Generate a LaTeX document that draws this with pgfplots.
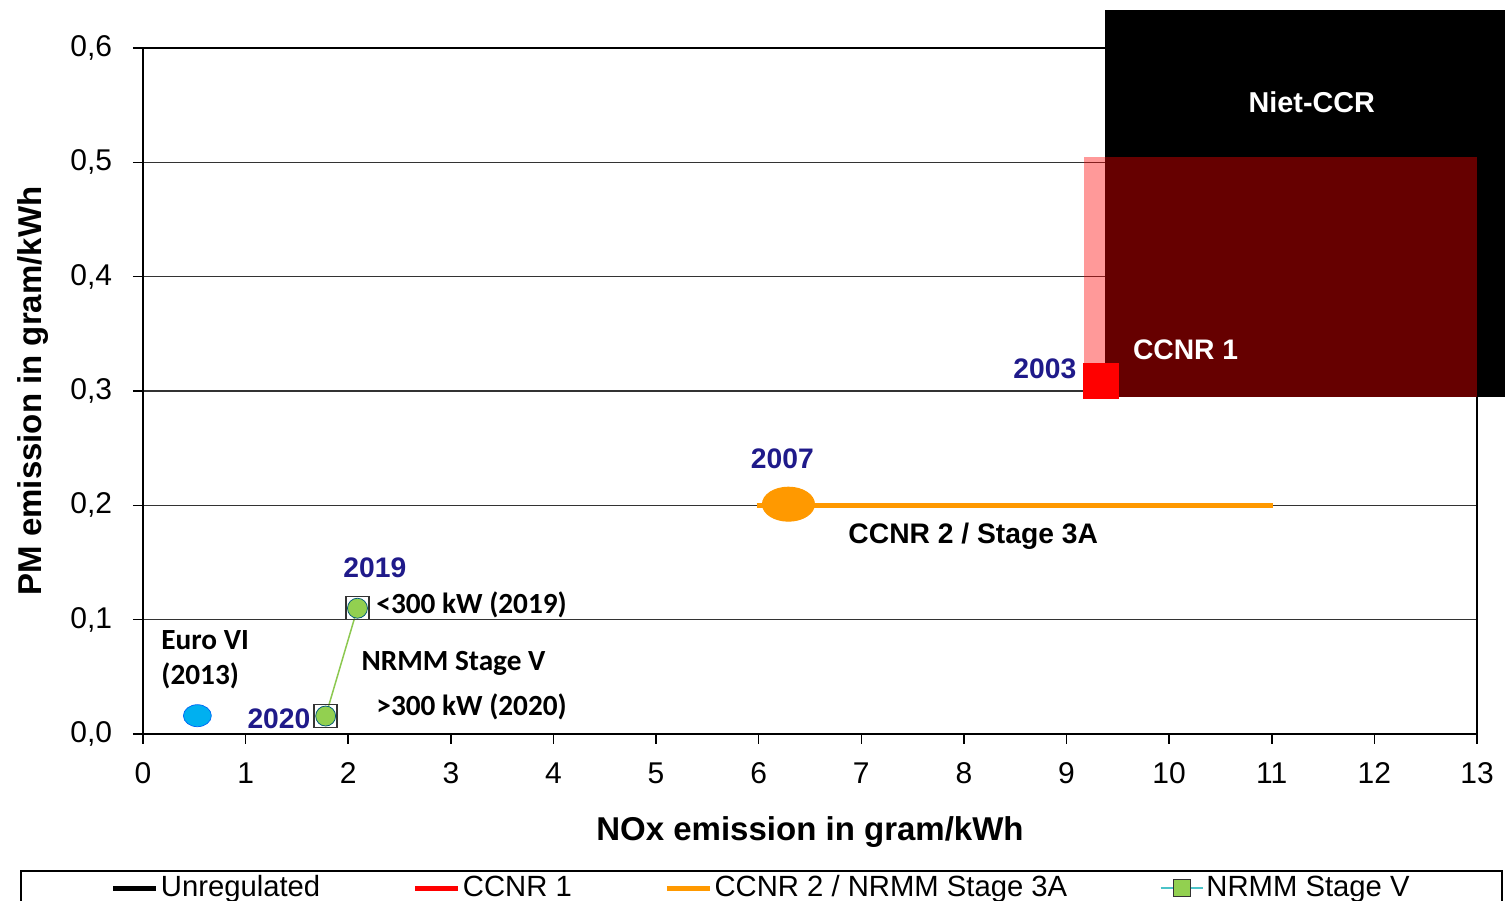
\documentclass[border=0pt]{standalone}
\usepackage{pgfplots}
\pgfplotsset{compat=1.18}
\usepackage{fontspec}
\setmainfont{Liberation Sans}
\newfontfamily\calib{Carlito}
\definecolor{navy}{HTML}{1F1A8A}
\definecolor{ora}{HTML}{FF9900}
\definecolor{grn}{HTML}{92D050}
\definecolor{grnline}{HTML}{8CC850}
\definecolor{sky}{HTML}{00B0F0}
\definecolor{teal2}{HTML}{4BC3C8}
\begin{document}
\begin{tikzpicture}
\begin{axis}[
  at={(0,0)}, anchor=south west, scale only axis,
  width=533.6pt, height=274.4pt,
  xmin=0, xmax=13, ymin=0, ymax=0.6,
  xtick={0,1,2,3,4,5,6,7,8,9,10,11,12,13},
  ytick={0,0.1,0.2,0.3,0.4,0.5,0.6},
  xtick pos=bottom, ytick pos=left,
  clip=false,
  axis line style={black, line width=0.6pt},
  tick align=outside, major tick length=4pt,
  tick style={black, line width=0.6pt},
  ymajorgrids=true,
  major grid style={black!80, line width=0.6pt},
  /pgf/number format/assume math mode=true,
  yticklabel style={/pgf/number format/use comma, /pgf/number format/fixed, /pgf/number format/fixed zerofill, /pgf/number format/precision=1, xshift=-4.8pt},
  tick label style={font=\fontsize{12}{14}\selectfont},
  xticklabel style={yshift=-4pt},
  xlabel={NOx emission in gram/kWh},
  ylabel={PM emission in gram/kWh},
  label style={font=\fontsize{13.2}{15}\selectfont\bfseries},
  xlabel style={at={(axis description cs:0.5,-0.1429)}, anchor=center},
  ylabel style={at={(axis description cs:-0.0825,0.5)}, anchor=center},
  legend columns=4,
  legend cell align=left,
  legend style={at={(rel axis cs:0.4636,-0.1983)}, anchor=north,
    draw=black, line width=0.6pt, inner xsep=36pt, inner ysep=1pt,
    font=\fontsize{11.7}{13}\selectfont,
    nodes={inner ysep=1pt, inner xsep=1pt},
    /tikz/every even column/.append style={column sep=36pt}},
]
% Unregulated (Niet-CCR) area
\addplot[fill=black, draw=none, forget plot] coordinates {(9.37,0.295) (13.7,0.295) (13.7,0.633) (9.37,0.633)};
% CCNR 1 area
\addplot[fill=red, fill opacity=0.4, draw=none, forget plot] coordinates {(9.17,0.295) (13.0,0.295) (13.0,0.505) (9.17,0.505)};
\addplot[only marks, mark=square*, mark size=7pt, red, forget plot] coordinates {(9.34,0.309)};
% CCNR 2 / Stage 3A
\addplot[ora, line width=2pt, forget plot] coordinates {(5.98,0.2) (11.01,0.2)};
\addplot[only marks, mark=*, ora, mark size=6.8pt, mark options={xscale=1.53}, forget plot] coordinates {(6.29,0.201)};
% NRMM Stage V
\addplot[grnline, line width=0.6pt, mark=square, mark size=4.6pt, mark options={draw=black!80, line width=0.6pt}, forget plot] coordinates {(2.09,0.110) (1.78,0.0157)};
\addplot[only marks, mark=*, mark size=4pt, mark options={fill=grn, draw=sky!50!black, line width=0.3pt}, forget plot] coordinates {(2.09,0.110) (1.78,0.0157)};
% Euro VI
\addplot[only marks, mark=*, mark size=4.4pt, mark options={xscale=1.27, fill=sky, draw=blue!40!sky, line width=0.3pt}, forget plot] coordinates {(0.53,0.016)};

\addlegendimage{black, line width=2pt}
\addlegendentry{Unregulated}
\addlegendimage{red, line width=2pt}
\addlegendentry{CCNR 1}
\addlegendimage{ora, line width=2pt}
\addlegendentry{CCNR 2 / NRMM Stage 3A}
\addlegendimage{teal2, line width=0.6pt, mark=square*, mark size=3.4pt, mark options={draw=black!80, fill=grn, line width=0.6pt}}
\addlegendentry{NRMM Stage V}

\node[font=\fontsize{11.5}{13}\selectfont\bfseries, text=white] at (axis cs:11.39,0.553) {Niet-CCR};
\node[font=\fontsize{11.3}{13}\selectfont\bfseries, text=white] at (axis cs:10.16,0.336) {CCNR 1};
\node[font=\fontsize{11.3}{13}\selectfont\bfseries, text=navy, anchor=east, inner sep=0pt] at (axis cs:9.10,0.319) {2003};
\node[font=\fontsize{11.3}{13}\selectfont\bfseries, text=navy] at (axis cs:6.23,0.2406) {2007};
\node[font=\fontsize{11.3}{13}\selectfont\bfseries, anchor=west, inner sep=0pt] at (axis cs:6.87,0.173) {CCNR 2 / Stage 3A};
\node[font=\fontsize{11.3}{13}\selectfont\bfseries, text=navy] at (axis cs:2.26,0.145) {2019};
\node[font=\fontsize{11.3}{13}\selectfont\bfseries, text=navy] at (axis cs:1.325,0.0131) {2020};
\node[font=\fontsize{11.7}{13}\selectfont\calib\bfseries, anchor=west, inner sep=0pt] at (axis cs:2.27,0.113) {<300 kW (2019)};
\node[font=\fontsize{11.7}{13}\selectfont\calib\bfseries, anchor=west, inner sep=0pt] at (axis cs:2.125,0.062) {NRMM Stage V};
\node[font=\fontsize{11.7}{13}\selectfont\calib\bfseries, anchor=west, inner sep=0pt] at (axis cs:2.27,0.0236) {>300 kW (2020)};
\node[font=\fontsize{11.7}{14}\selectfont\calib\bfseries, anchor=west, align=left, inner sep=0pt] at (axis cs:0.175,0.0647) {Euro VI\\(2013)};
\end{axis}
\pgfresetboundingbox
\path[use as bounding box] (-57.2pt,-66.8pt) rectangle (544.8pt,293.6pt);
\end{tikzpicture}
\end{document}
